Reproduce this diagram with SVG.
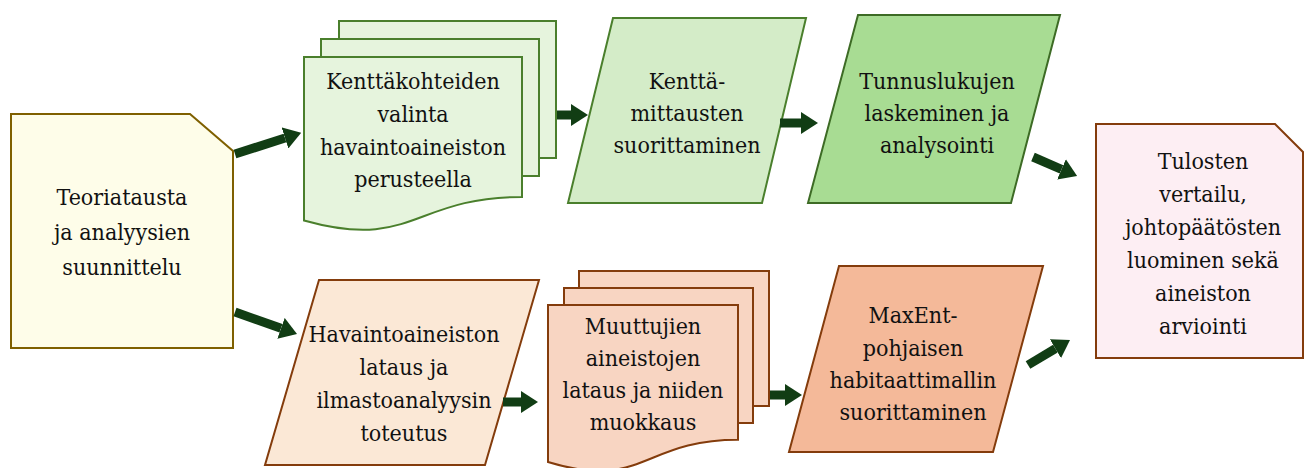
<svg xmlns="http://www.w3.org/2000/svg" width="1304" height="468" viewBox="0 0 1304 468">
<style>
.t{font-family:'DejaVu Serif Condensed','DejaVu Serif',serif;font-stretch:condensed;font-size:23px;fill:#111;text-anchor:middle}
.g{stroke:#4a7f2c;stroke-width:2}
.b{stroke:#843c0c;stroke-width:2}
.arr{stroke:#113d14;stroke-width:9;fill:none;marker-end:url(#ah)}
</style>
<defs>
<marker id="ah" markerUnits="userSpaceOnUse" viewBox="0 -11 17 22" refX="0" refY="0" markerWidth="17" markerHeight="22" orient="auto">
<path d="M0,-11 L17,0 L0,11 Z" fill="#113d14"/>
</marker>
</defs>
<rect width="1304" height="468" fill="#fff"/>
<g id="n1">
<path d="M11,114 H190 L233,151 V348 H11 Z" fill="#fefde9" stroke="#7f6000" stroke-width="2"/>
<g class="t">
<text x="122" y="205">Teoriatausta</text>
<text x="122" y="240">ja analyysien</text>
<text x="122" y="275">suunnittelu</text>
</g>
</g>
<g id="n2">
<rect x="339" y="21" width="217" height="137" fill="#e6f4dd" class="g"/>
<rect x="321" y="39" width="218" height="137" fill="#e6f4dd" class="g"/>
<path d="M304,57 H522 V197 C413,197 413,251 304,220.5 Z" fill="#e6f4dd" class="g"/>
<g class="t">
<text x="413" y="89">Kenttäkohteiden</text>
<text x="413" y="122">valinta</text>
<text x="413" y="155">havaintoaineiston</text>
<text x="413" y="187">perusteella</text>
</g>
</g>
<g id="n3">
<path d="M613,18 H806 L762,203 H568 Z" fill="#d4ecc8" class="g"/>
<g class="t">
<text x="687" y="89">Kenttä-</text>
<text x="687" y="121">mittausten</text>
<text x="687" y="153">suorittaminen</text>
</g>
</g>
<g id="n4">
<path d="M858,15 H1060 L1011,203 H808 Z" fill="#a8dc93" stroke="#3d6b25" stroke-width="2"/>
<g class="t">
<text x="937" y="89">Tunnuslukujen</text>
<text x="937" y="121">laskeminen ja</text>
<text x="937" y="153">analysointi</text>
</g>
</g>
<g id="n5">
<path d="M1096,124 H1275 L1303,152 V358 H1096 Z" fill="#fdeef3" class="b"/>
<g class="t">
<text x="1203" y="169">Tulosten</text>
<text x="1203" y="202">vertailu,</text>
<text x="1203" y="235">johtopäätösten</text>
<text x="1203" y="268">luominen sekä</text>
<text x="1203" y="301">aineiston</text>
<text x="1203" y="334">arviointi</text>
</g>
</g>
<g id="n6">
<path d="M319,280 H539 L485,465 H265 Z" fill="#fbe8d6" class="b"/>
<g class="t">
<text x="404" y="342">Havaintoaineiston</text>
<text x="404" y="375">lataus ja</text>
<text x="404" y="408">ilmastoanalyysin</text>
<text x="404" y="441">toteutus</text>
</g>
</g>
<g id="n7">
<rect x="579" y="271" width="190" height="135" fill="#f8d5c2" class="b"/>
<rect x="564" y="288" width="189" height="135" fill="#f8d5c2" class="b"/>
<path d="M548,305 H738 V439.7 C643,439.7 643,491 548,462 Z" fill="#f8d5c2" class="b"/>
<g class="t">
<text x="643" y="334">Muuttujien</text>
<text x="643" y="366">aineistojen</text>
<text x="643" y="398">lataus ja niiden</text>
<text x="643" y="430">muokkaus</text>
</g>
</g>
<g id="n8">
<path d="M839,266 H1043 L993,452 H789 Z" fill="#f4b999" class="b"/>
<g class="t">
<text x="913" y="323">MaxEnt-</text>
<text x="913" y="356">pohjaisen</text>
<text x="913" y="388">habitaattimallin</text>
<text x="913" y="420">suorittaminen</text>
</g>
</g>
<g id="connectors">
<line class="arr" x1="235" y1="154" x2="285" y2="138"/>
<line class="arr" x1="235" y1="312" x2="281" y2="328.3"/>
<line class="arr" x1="557" y1="115" x2="571" y2="115"/>
<line class="arr" x1="780" y1="123" x2="801" y2="123"/>
<line class="arr" x1="1033" y1="157" x2="1061.5" y2="169.3"/>
<line class="arr" x1="503" y1="402" x2="521" y2="402"/>
<line class="arr" x1="770" y1="395" x2="785" y2="395"/>
<line class="arr" x1="1028" y1="365" x2="1055.4" y2="348.7"/>
</g>
</svg>
